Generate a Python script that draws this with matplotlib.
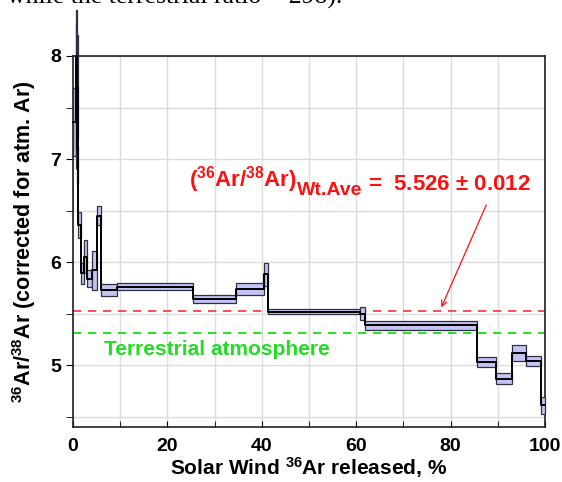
import matplotlib
matplotlib.use('Agg')
import matplotlib.pyplot as plt
import numpy as np
from matplotlib.patches import Rectangle

plt.rcParams['font.family'] = 'Liberation Sans'
plt.rcParams['font.weight'] = 'bold'
plt.rcParams['axes.labelweight'] = 'bold'
plt.rcParams['mathtext.fontset'] = 'custom'
plt.rcParams['mathtext.rm'] = 'Liberation Sans:bold'
plt.rcParams['mathtext.bf'] = 'Liberation Sans:bold'
plt.rcParams['mathtext.default'] = 'rm'

# step boundaries (% of 36Ar released), ratio per step and its 1-sigma error
edges = [0, 0.6, 0.7, 0.8, 0.9, 1.0, 1.1, 1.7, 2.3, 2.9, 4.0, 5.1, 5.9,
         9.3, 25.4, 34.5, 40.5, 41.3, 60.8, 61.8, 85.6, 89.6, 93.0, 96.0,
         99.2, 100]
ratio = [7.36, 7.6, 8.0, 7.1, 7.7, 6.95, 6.36, 5.89, 6.05, 5.84, 5.92,
         6.45, 5.73, 5.76, 5.64, 5.74, 5.88, 5.52, 5.50, 5.385, 5.03, 4.87,
         5.12, 5.04, 4.61]
err = [0.33, 0.7, 0.45, 0.35, 0.5, 0.18, 0.13, 0.1, 0.16, 0.08, 0.19, 0.09,
       0.06, 0.035, 0.04, 0.055, 0.11, 0.025, 0.065, 0.04, 0.05, 0.05, 0.08,
       0.05, 0.08]

wt_ave = 5.526
terr = 5.31

fig = plt.figure(figsize=(5.62, 4.82), dpi=100)
ax = fig.add_axes([73 / 562, 55 / 482, 472 / 562, 371 / 482])

for x0, x1, y, e in zip(edges[:-1], edges[1:], ratio, err):
    ax.add_patch(Rectangle((x0, y - e), x1 - x0, 2 * e, facecolor='#c4c4f4',
                           edgecolor='#303040', lw=0.9, clip_on=False,
                           zorder=3))

ax.step(edges, ratio + [ratio[-1]], where='post', color='k', lw=1.4,
        zorder=4, clip_on=False)

ax.axhline(wt_ave, color='#ff3030', ls=(0, (5, 4)), lw=1.2, zorder=2)
ax.axhline(terr, color='#00dd00', ls=(0, (5, 4)), lw=1.2, zorder=2)

ax.set_xlim(0, 100)
ax.set_ylim(4.4, 8)
ax.set_xticks(np.arange(0, 101, 20))
ax.set_xticks(np.arange(10, 100, 20), minor=True)
ax.set_yticks([5, 6, 7, 8])
ax.set_yticks([4.5, 5.5, 6.5, 7.5], minor=True)
ax.grid(True, which='both', color='#dcdcdc', lw=1.0, zorder=0)
ax.set_axisbelow(True)
ax.tick_params(axis='x', which='both', direction='in', length=4,
               labelsize=14, pad=8)
ax.tick_params(axis='y', which='both', direction='out', length=5,
               labelsize=14)
for s in ax.spines.values():
    s.set_color('#202020')
    s.set_linewidth(1.2)

ax.set_xlabel(r'Solar Wind $^{36}$Ar released, %', fontsize=15,
              labelpad=0)
ax.set_ylabel(r'$^{36}$Ar/$^{38}$Ar (corrected for atm. Ar)', fontsize=15.5,
              labelpad=9)

red = '#ff1010'
t1 = ax.text(24.6, 6.73, r'($^{36}$Ar/$^{38}$Ar)', color=red, fontsize=16,
             va='baseline')
t2 = ax.annotate('Wt.Ave', xy=(1, 0), xycoords=t1, color=red, fontsize=14,
                 va='baseline')
ax.annotate(r' =  5.526 $\pm$ 0.012', xy=(1, 0), xycoords=(t2, t1),
            color=red, fontsize=16, va='bottom')
ax.annotate('', xy=(77.8, wt_ave + 0.01), xytext=(87.8, 6.58),
            arrowprops=dict(arrowstyle='->', color=red, lw=0.9))

ax.text(6.5, 5.155, 'Terrestrial atmosphere', color='#22dd22', fontsize=15,
        va='center')

fig.text(7 / 562, 1 - 4 / 482, 'while the terrestrial ratio = 298).',
         family='Liberation Serif', weight='normal', fontsize=18.5,
         va='baseline')

plt.savefig('out.png', dpi=100)
